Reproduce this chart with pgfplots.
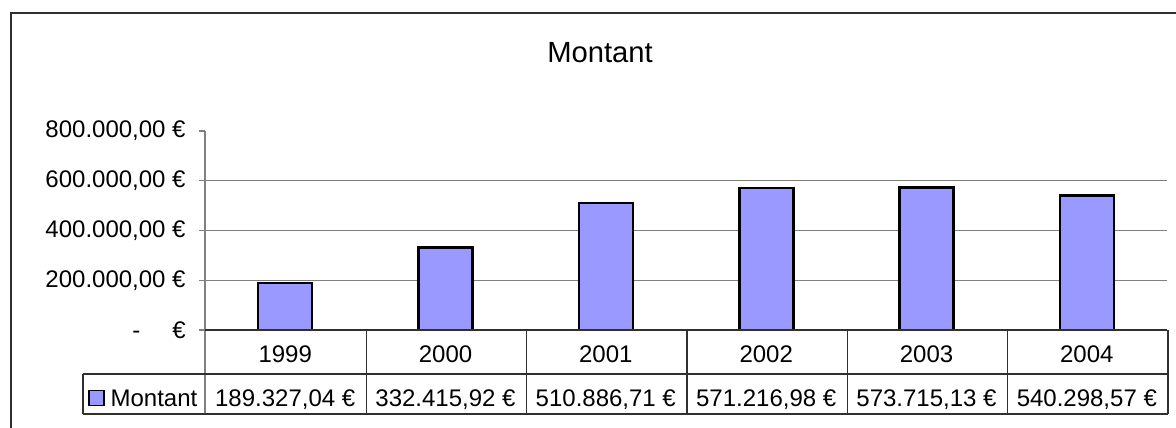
\documentclass[border=0pt]{standalone}
\usepackage{pgfplots}
\pgfplotsset{compat=1.18}
\usepackage{fontspec}
\setmainfont{Liberation Sans}
\definecolor{barfill}{HTML}{9999FF}
\definecolor{gridc}{HTML}{808080}
\definecolor{tabc}{HTML}{303030}
\newcommand{\lab}{\fontsize{12bp}{14bp}\selectfont}
\newcommand{\ttl}{\fontsize{14.6bp}{17bp}\selectfont}
\begin{document}
\begin{tikzpicture}
\begin{scope}[x=0.5bp,y=-0.5bp]
\useasboundingbox (0,0) rectangle (1176,428);
\draw[tabc, line width=1bp] (11,428) -- (11,13) -- (1176,13);
\node[anchor=base, font=\ttl, inner sep=0pt] at (600,63) {Montant};
% data table grid
\draw[gridc, line width=0.6bp] (205,330) -- (205,414);
\draw[tabc, line width=0.6bp] (83,374) -- (1168,374);
\draw[tabc, line width=0.6bp] (83,414) -- (1168,414);
\draw[tabc, line width=0.6bp] (83,374) -- (83,414);
\foreach \x in {366.3,526.7,687,847.3,1007.7,1168}
  \draw[tabc, line width=0.6bp] (\x,330) -- (\x,414);
\foreach \x/\yr/\v in {285.2/1999/{189.327,04 €},445.5/2000/{332.415,92 €},605.8/2001/{510.886,71 €},766.2/2002/{571.216,98 €},926.5/2003/{573.715,13 €},1086.8/2004/{540.298,57 €}}{
  \node[anchor=base, font=\lab, inner sep=0pt] at (\x,363) {\yr};
  \node[anchor=base, font=\lab, inner sep=0pt] at (\x,407) {\v};
}
\end{scope}
\begin{axis}[
  at={(102.5bp,-165bp)}, anchor=south west,
  scale only axis, width=481bp, height=99.5bp,
  xmin=0, xmax=6, ymin=0, ymax=800000,
  axis x line=none,
  axis y line=left,
  axis line style={-},
  y axis line style={draw=gridc, line width=0.6bp},
  xtick=\empty,
  ytick={0,200000,400000,600000,800000},
  yticklabels={{-\hspace{16bp}€},{200.000,00 €},{400.000,00 €},{600.000,00 €},{800.000,00 €}},
  scaled y ticks=false,
  tick align=outside, major tick length=3bp,
  ytick style={draw=gridc, line width=0.6bp},
  yticklabel style={font=\lab, inner sep=0pt, anchor=east, xshift=-6.5bp},
  extra y ticks={200000,400000,600000},
  extra y tick labels={},
  extra y tick style={grid=major, major tick length=0pt},
  grid style={draw=gridc, line width=0.6bp},
  ybar, bar width=27bp,
  clip=false,
  legend style={at={(axis description cs:-0.1216,-0.299)}, anchor=north west, draw=none, fill=none, inner sep=0pt, outer sep=0pt, column sep=3bp, nodes={inner sep=0pt, font=\lab}},
]
\addplot[fill=barfill, draw=black, line width=1.3bp,
  legend image code/.code={\draw[fill=barfill, draw=black, line width=0.8bp] (0bp,-3bp) rectangle (7.5bp,4.5bp);}]
  coordinates {(0.5,189327.04) (1.5,332415.92) (2.5,510886.71) (3.5,571216.98) (4.5,573715.13) (5.5,540298.57)};
\addlegendentry{Montant}
\draw[tabc, line width=0.6bp] (axis cs:0,0) -- (axis cs:6,0);
\end{axis}
\end{tikzpicture}
\end{document}
